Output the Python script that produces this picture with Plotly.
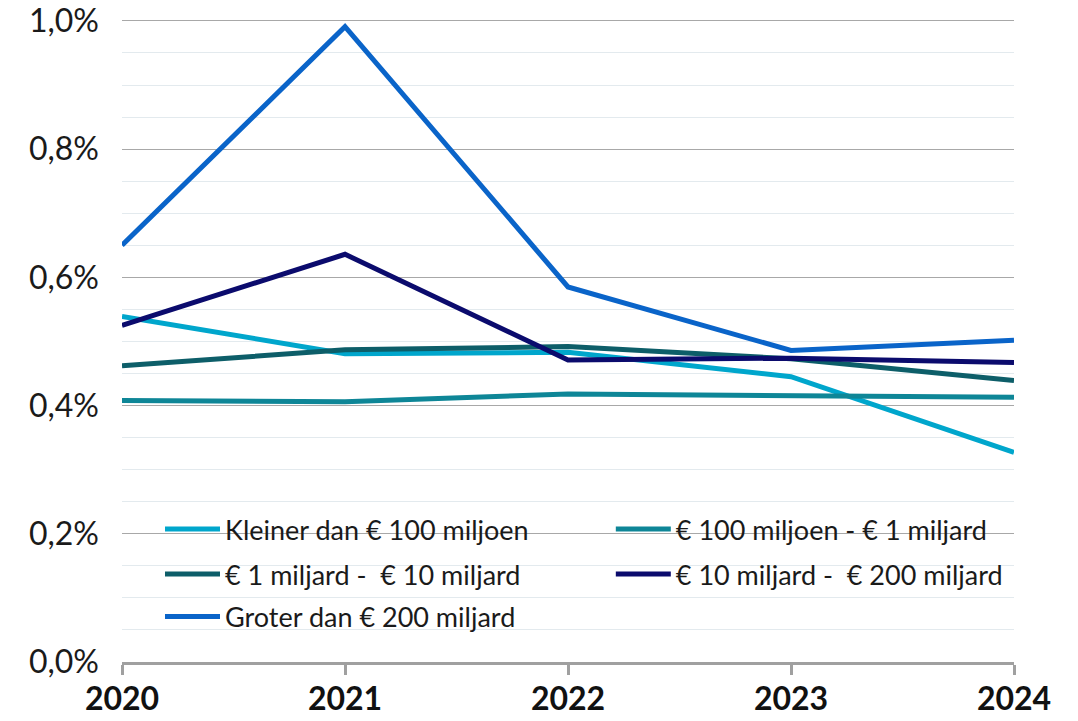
import plotly.graph_objects as go

years = [2020, 2021, 2022, 2023, 2024]
y_ticks = [0.0, 0.002, 0.004, 0.006, 0.008, 0.010]

kleiner_100mln = [0.00539, 0.00481, 0.00483, 0.00445, 0.00327]
mln100_mld1 = [0.00408, 0.00406, 0.00418, 0.00415, 0.00413]
mld1_mld10 = [0.00462, 0.00487, 0.00492, 0.00473, 0.00439]
mld10_mld200 = [0.00525, 0.00636, 0.00471, 0.00474, 0.00467]
groter_200mld = [0.00650, 0.00991, 0.00585, 0.00486, 0.00502]

names = [
    "Kleiner dan € 100 miljoen",
    "€ 100 miljoen - € 1 miljard",
    "€ 1 miljard -  € 10 miljard",
    "€ 10 miljard -  € 200 miljard",
    "Groter dan € 200 miljard",
]
series = [kleiner_100mln, mln100_mld1, mld1_mld10, mld10_mld200, groter_200mld]
colors = ["#00A6CC", "#0E8697", "#0D5E69", "#0B0B6D", "#0A64C9"]

# legend slot per series: (column x, row y) in paper units
legend_ids = ["legend", "legend2", "legend3", "legend4", "legend5"]
legend_pos = [(0.0426, 0.206), (0.548, 0.206), (0.0426, 0.136), (0.548, 0.136), (0.0426, 0.070)]

FONT = "Lato"


def create_figure():
    fig = go.Figure()

    fig.update_layout(
        width=1078,
        height=721,
        plot_bgcolor="white",
        paper_bgcolor="white",
        separators=", ",
        showlegend=True,
        font=dict(family=FONT, color="#1a1a1a"),
        margin=dict(l=122, r=64, t=19, b=59),
    )

    fig.update_xaxes(
        range=[2020, 2024],
        tickvals=years,
        ticktext=["<b>%d</b>" % y for y in years],
        tickfont=dict(size=32, color="#111111"),
        ticklabelstandoff=-3,
        ticklabeloverflow="allow",
        automargin=False,
        showgrid=False,
        zeroline=False,
        showline=True,
        linecolor="#A0A0A0",
        linewidth=3,
        ticks="outside",
        ticklen=10,
        tickwidth=3,
        tickcolor="#A0A0A0",
    )

    fig.update_yaxes(
        range=[0, 0.01003],
        tickvals=y_ticks,
        tickformat=".1%",
        tickfont=dict(size=32, color="#1a1a1a"),
        ticklabelstandoff=22,
        ticklabeloverflow="allow",
        automargin=False,
        showgrid=True,
        gridcolor="#A8A8A8",
        gridwidth=1.3,
        zeroline=False,
        minor=dict(dtick=0.0005, showgrid=True, gridcolor="#E3EAEE", gridwidth=1),
    )

    # white band behind the legend, covering the grid
    fig.add_shape(
        type="rect", xref="paper", yref="paper",
        x0=0.001, x1=1, y0=0.012, y1=0.245,
        fillcolor="white", line=dict(width=0), layer="between",
    )
    return fig


def add_series(figure):
    for name, values, color, leg in zip(names, series, colors, legend_ids):
        figure.add_trace(go.Scatter(
            x=years,
            y=values,
            name=name,
            mode="lines",
            line=dict(color=color, width=5),
            legend=leg,
            showlegend=True,
        ))


def add_legends(figure):
    legends = {}
    for leg, (lx, ly) in zip(legend_ids, legend_pos):
        legends[leg] = dict(
            orientation="h",
            x=lx,
            y=ly,
            xanchor="left",
            yanchor="middle",
            bgcolor="rgba(0,0,0,0)",
            font=dict(family=FONT, size=27, color="#1a1a1a"),
            itemwidth=55,
            visible=True,
        )
    figure.update_layout(**legends)


fig = create_figure()
add_series(fig)
add_legends(fig)
# drop the default 8px body margin so the figure fills the window exactly
fig.write_html(
    "out.html",
    config={"displayModeBar": False},
    post_script="document.body.style.margin='0';",
)
